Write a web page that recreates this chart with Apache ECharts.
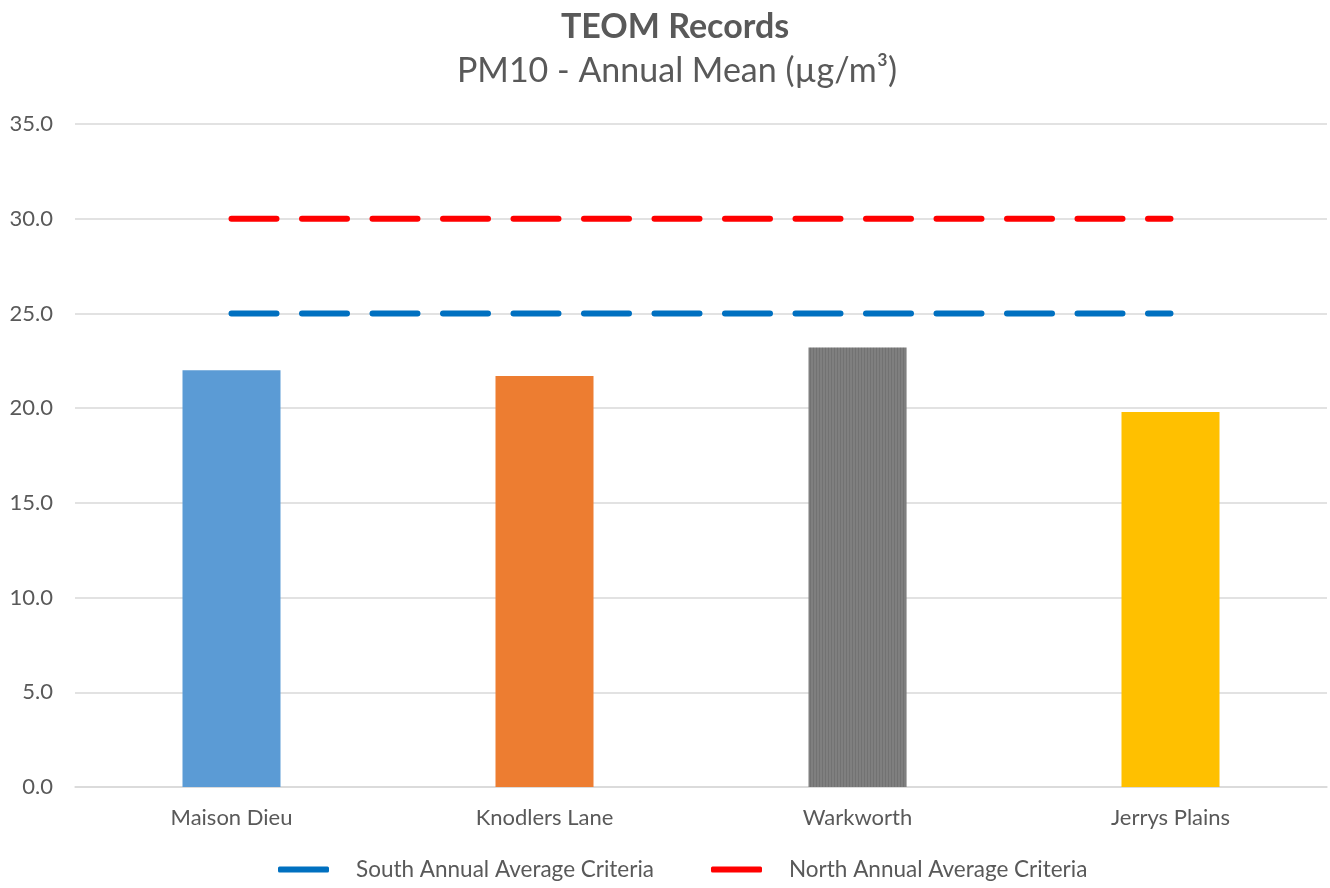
<!DOCTYPE html>
<html>
<head>
<meta charset="utf-8">
<script src="https://cdn.jsdelivr.net/npm/echarts@6/dist/echarts.min.js"></script>
<style>
  html, body { margin: 0; padding: 0; background: #fff; }
  #chart { width: 1330px; height: 888px; }
</style>
</head>
<body>
<div id="chart"></div>
<script>
// Monitoring sites and PM10 annual means (µg/m³)
const sites = ['Maison Dieu', 'Knodlers Lane', 'Warkworth', 'Jerrys Plains'];
const annualMean = [22.0, 21.7, 23.2, 19.8];
const barColors = ['#5b9bd5', '#ed7d31', '#7f7f7f', '#ffc000'];

// Annual average criteria applied across all sites
const southCriteria = [25, 25, 25, 25];
const northCriteria = [30, 30, 30, 30];

const FONT = 'Lato, "Noto Sans", sans-serif';
const TEXT = '#595959';

const chart = echarts.init(document.getElementById('chart'), null, { renderer: 'canvas' });

const dashed = (color) => ({
  color: color,
  width: 6,
  type: [45, 25.5],
  cap: 'round'
});

// fine vertical hatching on the grey bar
const stripes = {
  symbol: 'rect',
  symbolSize: 1,
  dashArrayX: [1, 2],
  dashArrayY: [4, 0],
  rotation: 0,
  color: 'rgba(0,0,0,0.10)'
};

chart.setOption({
  animation: false,
  backgroundColor: '#ffffff',
  title: [
    {
      text: 'TEOM Records',
      left: 670,
      textAlign: 'center',
      top: 5,
      textStyle: { fontFamily: FONT, fontSize: 34, fontWeight: 'bold', color: TEXT }
    },
    {
      text: 'PM10 - Annual Mean (µg/m³)',
      left: 672,
      textAlign: 'center',
      top: 49,
      textStyle: { fontFamily: FONT, fontSize: 34, fontWeight: 'normal', color: TEXT }
    }
  ],
  legend: {
    bottom: 2,
    left: 273,
    icon: 'roundRect',
    itemWidth: 51,
    itemHeight: 6,
    itemGap: 57,
    data: ['South Annual Average Criteria', 'North Annual Average Criteria'],
    textStyle: { fontFamily: FONT, fontSize: 22.5, color: TEXT, padding: [0, 0, 0, 22] }
  },
  grid: { left: 75, right: 3, top: 124, bottom: 101, containLabel: false },
  xAxis: {
    type: 'category',
    data: sites,
    boundaryGap: true,
    axisLine: { show: true, lineStyle: { color: '#d9d9d9', width: 1.5 } },
    axisTick: { show: false },
    axisLabel: { fontFamily: FONT, fontSize: 22, color: TEXT, margin: 20 }
  },
  yAxis: {
    type: 'value',
    min: 0,
    max: 35,
    interval: 5,
    axisLine: { show: false },
    axisTick: { show: false },
    splitLine: { lineStyle: { color: '#d9d9d9', width: 1.5 } },
    axisLabel: {
      fontFamily: FONT, fontSize: 22, color: TEXT, margin: 22,
      formatter: (v) => v.toFixed(1)
    }
  },
  series: [
    {
      name: 'PM10 Annual Mean',
      type: 'bar',
      barWidth: 98,
      data: annualMean.map((v, i) => ({
        value: v,
        itemStyle: i === 2 ? { color: barColors[i], decal: stripes } : { color: barColors[i] }
      })),
      z: 2
    },
    {
      name: 'South Annual Average Criteria',
      type: 'line',
      data: southCriteria,
      symbol: 'none',
      color: '#0070c0',
      lineStyle: dashed('#0070c0'),
      z: 3
    },
    {
      name: 'North Annual Average Criteria',
      type: 'line',
      data: northCriteria,
      symbol: 'none',
      color: '#ff0000',
      lineStyle: dashed('#ff0000'),
      z: 3
    }
  ]
});
</script>
</body>
</html>
